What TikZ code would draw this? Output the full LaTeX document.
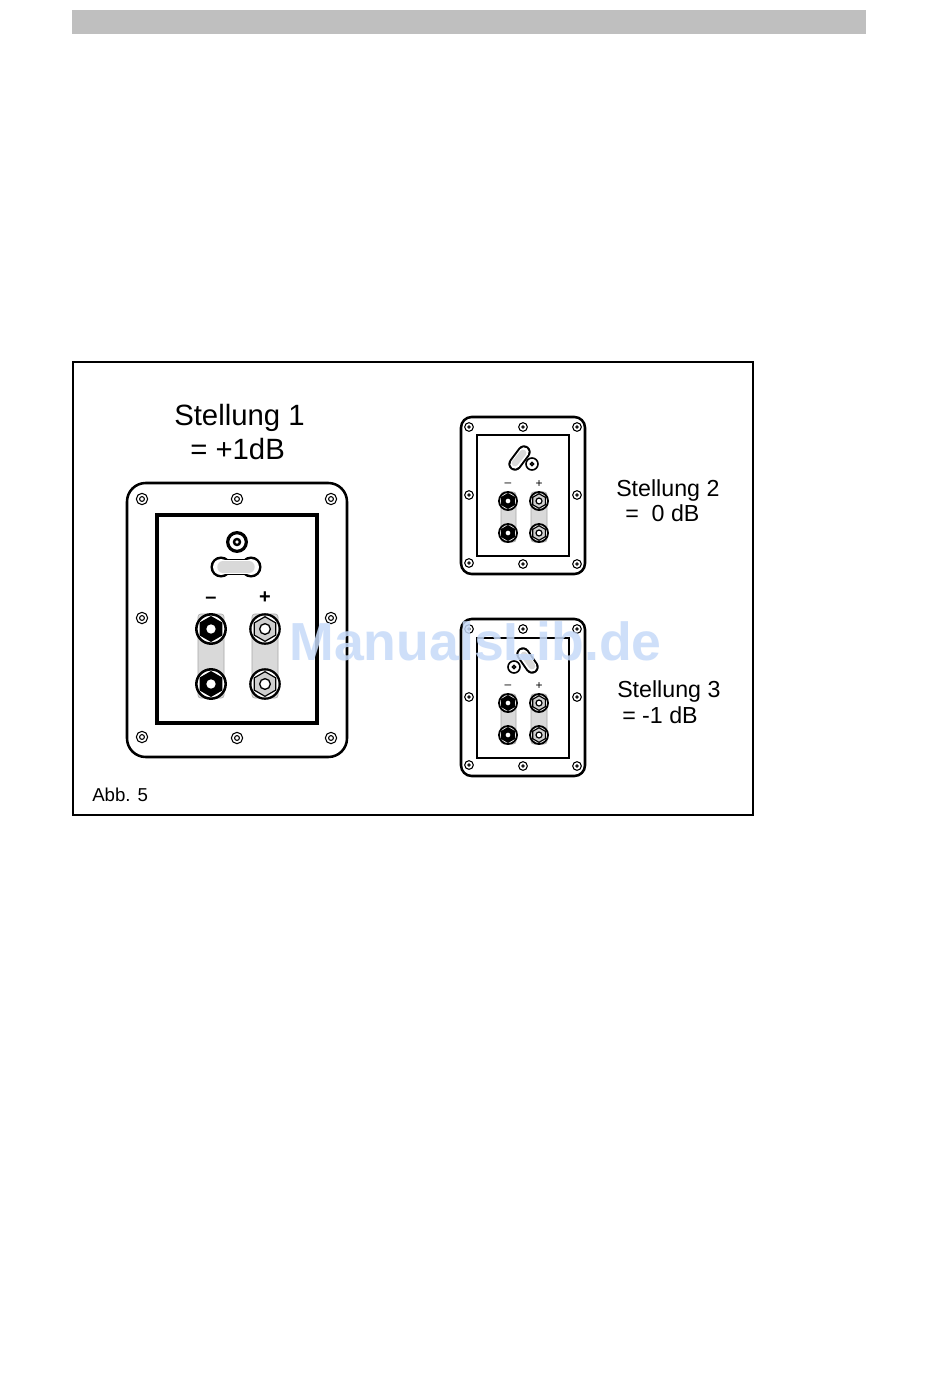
\documentclass[tikz,border=0pt]{standalone}
\usepackage{fontspec}
\setmainfont{Liberation Sans}
\usetikzlibrary{shapes.geometric}
\definecolor{bargray}{HTML}{BFBFBF}
\definecolor{strapgray}{HTML}{D9D9D9}
\definecolor{nutgray}{HTML}{CFCFCF}
\definecolor{markblue}{HTML}{C6DAF9}
\begin{document}
\begin{tikzpicture}[
  x = 0.75pt,
  y = -0.75pt,
  ring/.style = {
    shape = circle,
    draw = black,
    fill = white,
    inner sep = 0pt,
    outer sep = 0pt,
    minimum size = #1,
  },
  nutminus/.style = {
    shape = regular polygon,
    regular polygon sides = 6,
    fill = black,
    inner sep = 0pt,
    minimum size = #1,
  },
  nutplus/.style = {
    nutminus = #1,
    draw = black,
    fill = nutgray,
    line width = 0.9pt,
  },
  strap/.style = {
    draw = gray!70,
    fill = strapgray,
    line width = 0.4pt,
    rounded corners = 2pt,
  },
  panel/.style = {
    draw = black,
    line width = 1.9pt,
    rounded corners = #1,
  },
  lever/.style = { line width = #1, line cap = round },
  bigtext/.style = { anchor = base west, inner sep = 0pt, font = \fontsize{22}{26}\selectfont },
  midtext/.style = { anchor = base west, inner sep = 0pt, font = \fontsize{17.4}{20}\selectfont },
]
  \useasboundingbox (0, 0) rectangle (950, 1388);
  \fill[white] (0, 0) rectangle (950, 1388);

  \fill[bargray] (72, 10) rectangle (866, 34);
  \draw[line width = 1.5pt] (73, 362) rectangle (753, 815);

  % Stellung 1
  \draw[panel = 14pt] (127, 483) rectangle (347, 757);
  \draw[line width = 2.4pt] (157, 515) rectangle (317, 723);
  \foreach \x/\y/\n in {142/499/a, 237/499/b, 331/499/c, 142/618/d, 331/618/e, 142/737/f, 237/738/g, 331/738/h} {
    \node[ring = 8.5pt, line width = 0.8pt] (big\n) at (\x, \y) {};
    \node[ring = 3.6pt, line width = 0.8pt] at (big\n) {};
  }
  \node[ring = 14pt, line width = 2.4pt] (bigknob) at (237, 542) {};
  \node[ring = 4.5pt, line width = 1.8pt] at (bigknob) {};
  \draw[lever = 12pt] (226, 567) -- (246, 567);
  \fill (221, 567) circle (7.9pt) (251, 567) circle (7.9pt);
  \fill[white] (221, 567) circle (6pt) (251, 567) circle (6pt);
  \draw[lever = 10pt, white] (226, 567) -- (246, 567);
  \draw[lever = 8.6pt, strapgray] (223, 567) -- (249, 567);
  \draw[strap] (198, 614) rectangle (224, 698);
  \draw[strap] (252, 614) rectangle (278, 698);
  \foreach \y/\n in {629/a, 684/b} {
    \node[ring = 22pt, line width = 1.9pt] (bigm\n) at (211, \y) {};
    \node[nutminus = 19.5pt, rotate = 30] at (bigm\n) {};
    \node[ring = 7pt, draw = none] at (bigm\n) {};
    \node[ring = 22pt, line width = 1.7pt] (bigp\n) at (265, \y) {};
    \node[nutplus = 18.5pt, rotate = 30] at (bigp\n) {};
    \node[ring = 8pt, line width = 1pt] at (bigp\n) {};
  }
  \node[font = \fontsize{15}{15}\bfseries\selectfont, inner sep = 0pt] (bigminus) at (211, 600) {--};
  \node[font = \fontsize{15}{15}\bfseries\selectfont, inner sep = 0pt] (bigplus) at (265, 598) {+};

  % Stellung 2 und 3
  \foreach \dy/\t/\b/\n in {0/435/556/two, 202/638/758/three} {
    \draw[panel = 8pt] (461, 417 + \dy) rectangle (585, 574 + \dy);
    \draw[line width = 1.5pt] (477, \t) rectangle (569, \b);
    \foreach \x/\y/\s in {469/427/a, 523/427/b, 577/427/c, 469/495/d, 577/495/e, 469/563/f, 523/564/g, 577/564/h} {
      \node[ring = 6.5pt, line width = 0.8pt] (\n\s) at (\x, \y + \dy) {};
      \node[ring = 1.8pt, line width = 0.7pt] at (\n\s) {};
    }
    \draw[strap] (501, 492 + \dy) rectangle (516, 542 + \dy);
    \draw[strap] (531, 492 + \dy) rectangle (547, 542 + \dy);
    \foreach \y/\s in {501/a, 533/b} {
      \node[ring = 13.5pt, line width = 1.4pt] (\n m\s) at (508, \y + \dy) {};
      \node[nutminus = 12pt, rotate = 30] at (\n m\s) {};
      \node[ring = 3.5pt, draw = none] at (\n m\s) {};
      \node[ring = 13.5pt, line width = 1.4pt] (\n p\s) at (539, \y + \dy) {};
      \node[nutplus = 11pt, rotate = 30, line width = 0.9pt] at (\n p\s) {};
      \node[ring = 4.5pt, line width = 0.9pt] at (\n p\s) {};
    }
    \node[font = \fontsize{9}{9}\selectfont, inner sep = 0pt] (\n minus) at (508, 485 + \dy) {--};
    \node[font = \fontsize{9}{9}\selectfont, inner sep = 0pt] (\n plus) at (539, 484 + \dy) {+};
  }
  \node[ring = 9pt, line width = 1.2pt] (twoknob) at (532, 464) {};
  \node[ring = 2.4pt, line width = 1pt] at (twoknob) {};
  \node[ring = 9pt, line width = 1.2pt] (threeknob) at (514, 667) {};
  \node[ring = 2.4pt, line width = 1pt] at (threeknob) {};
  \draw[lever = 10pt] (515, 464) -- (524, 452);
  \draw[lever = 7pt, white] (515, 464) -- (524, 452);
  \draw[lever = 5pt, strapgray] (515, 463) -- (523, 453);
  \draw[lever = 10pt] (532, 667) -- (523, 654);
  \draw[lever = 7pt, white] (532, 667) -- (523, 654);
  \draw[lever = 5pt, strapgray] (532, 666) -- (524, 655);

  \node[bigtext] (stone) at (174, 425) {Stellung 1};
  \node[bigtext] (dbone) at (190, 459) {= +1dB};
  \node[midtext] (sttwo) at (616, 496) {Stellung 2};
  \node[midtext] (dbtwo) at (625, 521) {=\ \ 0 dB};
  \node[midtext] (stthree) at (617, 697) {Stellung 3};
  \node[midtext] (dbthree) at (622, 723) {=\ -1 dB};
  \node[anchor = base west, inner sep = 0pt, font = \fontsize{14}{16}\selectfont] (abb) at (92, 801) {Abb. 5};

  \node[inner sep = 0pt, text = markblue, opacity = 0.85, font = \fontsize{40.2}{44}\bfseries\selectfont] (mark) at (475.5, 641) {ManualsLib.de};
\end{tikzpicture}
\end{document}
